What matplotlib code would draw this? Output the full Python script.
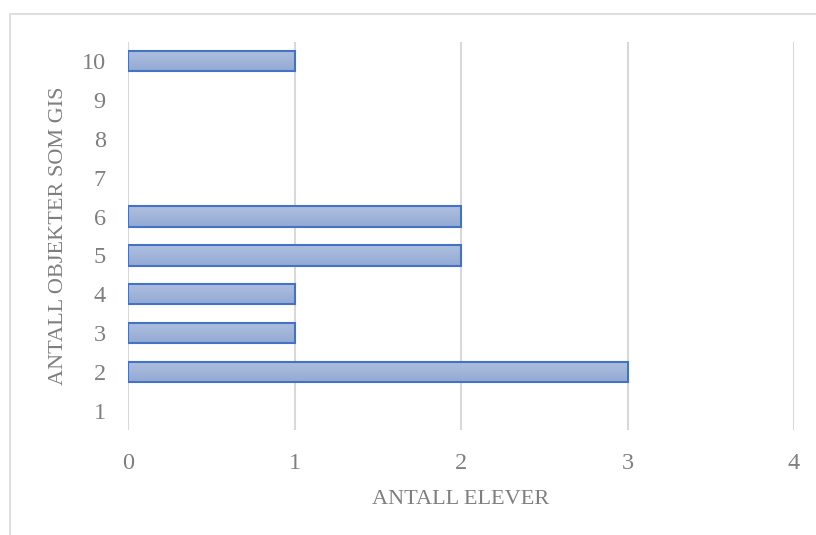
import numpy as np
import matplotlib
matplotlib.use("Agg")
import matplotlib.pyplot as plt
from matplotlib.patches import Rectangle
from matplotlib.colors import LinearSegmentedColormap

# Number of objects given (y) and number of pupils (x)
objects = [1, 2, 3, 4, 5, 6, 7, 8, 9, 10]
pupils = [0, 3, 1, 1, 2, 2, 0, 0, 0, 1]
x_ticks = [0, 1, 2, 3, 4]

x_label = "ANTALL ELEVER"
y_label = "ANTALL OBJEKTER SOM GIS"

grey = "#7f7f7f"
grid_c = "#d9d9d9"
edge_c = "#4472c4"
font = "Liberation Serif"

fig = plt.figure(figsize=(8.16, 5.35), dpi=100)
fig.patch.set_facecolor("white")

# outer chart frame
fig.patches.append(Rectangle((9.5 / 816, -0.05), 1.2, 1 - 13.5 / 535 + 0.05,
                             transform=fig.transFigure, fill=False,
                             edgecolor=grid_c, linewidth=1.2))

ax = fig.add_axes([128 / 816, 1 - 430.4 / 535, (794 - 128) / 816, (430.4 - 41.6) / 535])
ax.set_xlim(0, 4)
ax.set_ylim(0.5, 10.5)

for s in ax.spines.values():
    s.set_visible(False)

ax.set_xticks(x_ticks)
ax.set_yticks(objects)
ax.set_yticklabels([str(v) for v in objects])
ax.xaxis.grid(True, color=grid_c, linewidth=1.5)
ax.set_axisbelow(True)
ax.tick_params(length=0, labelcolor=grey, labelsize=17.5)
ax.tick_params(axis="x", pad=16)
ax.tick_params(axis="y", pad=16)
for lab in ax.get_xticklabels() + ax.get_yticklabels():
    lab.set_fontfamily(font)

bars = ax.barh(objects, pupils, height=0.52, facecolor="none",
               edgecolor=edge_c, linewidth=1.5, zorder=3)

# vertical gradient fill inside each bar
cmap = LinearSegmentedColormap.from_list("barfill", ["#aec0df", "#94aad4"])
grad = np.linspace(0, 1, 64).reshape(-1, 1)
for b in bars:
    w = b.get_width()
    if w <= 0:
        b.set_visible(False)
        continue
    x0, y0, h = b.get_x(), b.get_y(), b.get_height()
    ax.imshow(grad, cmap=cmap, aspect="auto", origin="upper",
              extent=(x0, x0 + w, y0, y0 + h), zorder=2, interpolation="bilinear")
ax.set_xlim(0, 4)
ax.set_ylim(0.5, 10.5)

ax.set_xlabel(x_label, color=grey, fontsize=16, fontfamily=font, labelpad=12)
ax.set_ylabel(y_label, color=grey, fontsize=16, fontfamily=font, labelpad=10)

fig.savefig("out.png", dpi=100)
